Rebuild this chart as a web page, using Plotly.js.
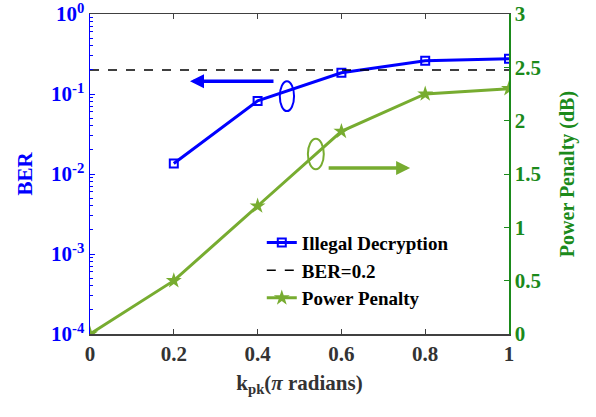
<!DOCTYPE html>
<html><head><meta charset="utf-8">
<script src="https://cdn.plot.ly/plotly-3.0.1.min.js"></script>
<style>body{margin:0;padding:0;background:#fff}#chart{width:596px;height:417px}</style>
</head><body><div id="chart"></div>
<script>
const kpk = [0, 0.2, 0.4, 0.6, 0.8, 1.0];
const berX = [0.2, 0.4, 0.6, 0.8, 1.0];
const berIllegal = [0.0135, 0.082, 0.184, 0.26, 0.275];
const berThreshold = [0.2, 0.2];
const berThresholdX = [0, 1];
const powerPenalty = [0, 0.5, 1.2, 1.9, 2.25, 2.3];
const xTicks = [0, 0.2, 0.4, 0.6, 0.8, 1];
const xTickText = ['0', '0.2', '0.4', '0.6', '0.8', '1'];
const yTicks = [1e-4, 1e-3, 1e-2, 1e-1, 1];
const yTickText = ['10<sup>-4</sup>', '10<sup>-3</sup>', '10<sup>-2</sup>', '10<sup>-1</sup>', '10<sup>0</sup>'];
const yMinorMult = [2, 3, 4, 5, 6, 7, 8, 9];
const y2Ticks = [0, 0.5, 1, 1.5, 2, 2.5, 3];
const y2TickText = ['0', '0.5', '1', '1.5', '2', '2.5', '3'];

const yMinor = [];
yTicks.slice(0, -1).forEach(d => yMinorMult.forEach(m => yMinor.push(d * m)));

const BLUE = '#0000ff';
const GREEN = '#1b8a1b';
const LGREEN = '#77ac30';
const FONT = 'Liberation Serif';

const traces = [
  {x: berX, y: berIllegal, name: 'Illegal Decryption', type: 'scatter', mode: 'lines+markers',
   line: {color: BLUE, width: 3}, marker: {symbol: 'square-open', size: 8, color: BLUE, line: {width: 2, color: BLUE}},
   yaxis: 'y'},
  {x: berThresholdX, y: berThreshold, name: 'BER=0.2', type: 'scatter', mode: 'lines',
   line: {color: '#000', width: 1.5, dash: 'dash'}, yaxis: 'y'},
  {x: kpk, y: powerPenalty, name: 'Power Penalty', type: 'scatter', mode: 'lines+markers',
   line: {color: LGREEN, width: 3}, marker: {symbol: 'star', size: 12, color: LGREEN},
   yaxis: 'y2'}
];

const layout = {
  width: 596, height: 417,
  margin: {l: 90, r: 87, t: 14, b: 83},
  paper_bgcolor: '#fff', plot_bgcolor: '#fff',
  font: {family: FONT, size: 20, color: '#262626', weight: 'bold'},
  showlegend: true,
  legend: {x: 0.41, y: 0.345, xanchor: 'left', yanchor: 'top', bgcolor: 'rgba(255,255,255,0)',
           traceorder: 'normal',
           font: {family: FONT, size: 19, color: '#000', weight: 'bold'}},
  xaxis: {range: [0, 1], tickvals: xTicks, ticktext: xTickText, ticks: 'inside', ticklen: 5,
          showgrid: false, zeroline: false, showline: true, linecolor: '#404040', linewidth: 1.5,
          mirror: 'ticks', tickcolor: '#404040', ticklabeloverflow: 'allow',
          tickfont: {family: FONT, size: 21, color: '#333', weight: 'bold'},
          title: {text: 'k<sub>pk</sub>(<i>π</i> radians)', standoff: 10,
                  font: {family: FONT, size: 21, color: '#333', weight: 'bold'}}},
  yaxis: {type: 'log', range: [-4, 0], tickvals: yTicks, ticktext: yTickText, ticks: 'inside', ticklen: 5,
          showgrid: false, zeroline: false, showline: true, linecolor: BLUE, linewidth: 1.5, tickcolor: BLUE,
          ticklabeloverflow: 'allow',
          minor: {tickvals: yMinor, ticks: 'inside', ticklen: 3, tickcolor: BLUE, showgrid: false},
          tickfont: {family: FONT, size: 21, color: BLUE, weight: 'bold'},
          title: {text: 'BER', standoff: 12, font: {family: FONT, size: 21, color: BLUE, weight: 'bold'}}},
  yaxis2: {overlaying: 'y', side: 'right', range: [0, 3], tickvals: y2Ticks, ticktext: y2TickText,
           ticks: 'inside', ticklen: 5, showgrid: false, zeroline: false, showline: true,
           linecolor: GREEN, linewidth: 1.5, tickcolor: GREEN, ticklabeloverflow: 'allow',
           tickfont: {family: FONT, size: 21, color: GREEN, weight: 'bold'},
           title: {text: 'Power Penalty (dB)', standoff: 20, font: {family: FONT, size: 20, color: GREEN, weight: 'bold'}}},
  shapes: [
    {type: 'circle', xref: 'x', yref: 'y2', x0: 0.453, x1: 0.487, y0: 2.09, y1: 2.37,
     line: {color: BLUE, width: 2}},
    {type: 'circle', xref: 'x', yref: 'y2', x0: 0.520, x1: 0.558, y0: 1.545, y1: 1.83,
     line: {color: LGREEN, width: 2}}
  ],
  annotations: [
    {xref: 'x', yref: 'y2', axref: 'x', ayref: 'y2', x: 0.2387, y: 2.37, ax: 0.4415, ay: 2.37,
     text: '', showarrow: true, arrowhead: 2, arrowsize: 0.8, arrowwidth: 3.5, arrowcolor: BLUE},
    {xref: 'x', yref: 'y2', axref: 'x', ayref: 'y2', x: 0.764, y: 1.556, ax: 0.566, ay: 1.556,
     text: '', showarrow: true, arrowhead: 2, arrowsize: 0.8, arrowwidth: 3.5, arrowcolor: LGREEN}
  ]
};

Plotly.newPlot('chart', traces, layout, {displayModeBar: false, staticPlot: true});
</script></body></html>
